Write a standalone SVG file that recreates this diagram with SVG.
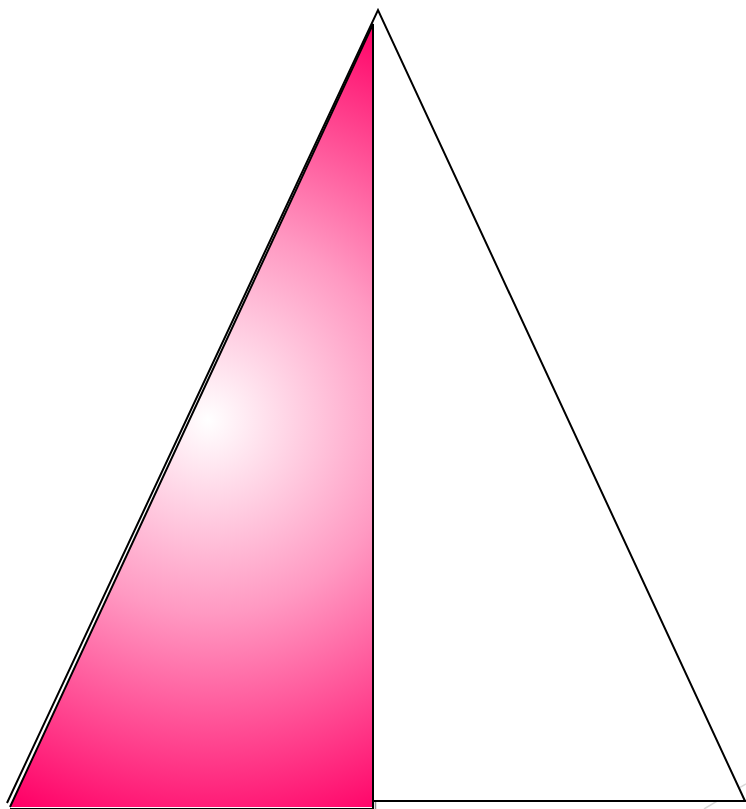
<svg xmlns="http://www.w3.org/2000/svg" width="746" height="809" viewBox="0 0 746 809">
<defs>
<radialGradient id="pg" gradientUnits="userSpaceOnUse" cx="208" cy="420" r="430">
<stop offset="0" stop-color="#ffffff"/>
<stop offset="0.45" stop-color="#ff99c2"/>
<stop offset="1" stop-color="#ff0066"/>
</radialGradient>
</defs>
<style>
.edge{fill:none;stroke:#000;stroke-width:2}
</style>
<g id="shadow">
<line x1="746" y1="784" x2="704" y2="809" stroke="#d8d8d8" stroke-width="1.5"/>
<line x1="375.5" y1="26" x2="375.5" y2="809" stroke="#909090" stroke-width="1.5"/>
</g>
<g id="outer-triangle">
<polygon points="378,10 7,803 746,801" fill="#fff" stroke="none"/>
<polyline class="edge" points="7,803 378,10 745,801"/>
<line class="edge" x1="373" y1="801" x2="746" y2="801"/>
</g>
<g id="pink-triangle">
<polygon points="373,24 10,807 373,807" fill="url(#pg)"/>
<polyline class="edge" points="10,807 373,24 373,809"/>
<line x1="10" y1="808.5" x2="373" y2="808.5" stroke="#000" stroke-width="1"/>
</g>
</svg>
